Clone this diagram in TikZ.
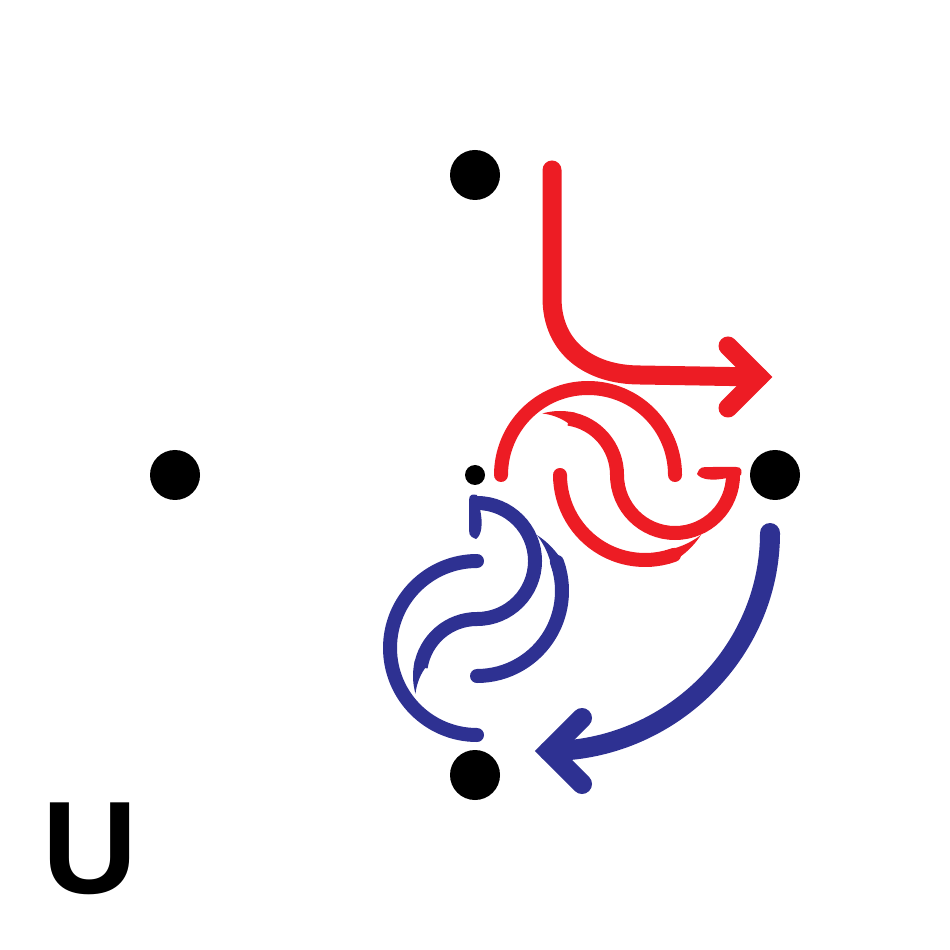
\documentclass[tikz,border=0pt]{standalone}
\usepackage{fontspec}
\usepackage{tikz}
\newfontfamily\capfont{Liberation Sans}
\definecolor{swred}{HTML}{ED1C24}
\definecolor{swblue}{HTML}{2E3192}
\newcommand{\taper}[6]{%
  \fill[shift={(#1,#2)}] plot[variable=\t,domain=0:1,samples=16] ({#4+(#5-#4)*\t}:{#3+7+(#6-#3-7)*\t})
    -- plot[variable=\t,domain=1:0,samples=16] ({#4+(#5-#4)*\t}:{#3-7+(#6-#3+7)*\t}) -- cycle;
}
\newcommand{\swirl}{%
  \draw[sline] (-87,0) arc[start angle=180,end angle=360,radius=87];
  \draw[sline,line cap=butt] ([shift={(-28,0)}]279:57) arc[start angle=279,end angle=360,radius=57]
    arc[start angle=180,end angle=0,radius=58];
  \draw[sline] (-28,0) arc[start angle=180,end angle=70,radius=85];
  \taper{-28}{0}{57}{284}{254}{64}
  \taper{57}{0}{85}{75}{47}{82}
  \fill (109,-1) .. controls (112,-8) .. (125,-8) -- (148,-8)
    .. controls (154,-8) and (154,-4) .. (153,0) -- (139,3)
    .. controls (125,6) and (113,5) .. cycle;
}
\usetikzlibrary{calc}

\begin{document}
\begin{tikzpicture}[x=0.1mm,y=-0.1mm,
    vdot/.style={circle,fill=black,inner sep=0pt,minimum size=5mm},
    sline/.style={line width=1.4mm,line cap=round},
    redline/.style={swred,line width=1.9mm,line cap=round},
    blueline/.style={swblue,line width=2mm,line cap=round},
    chevron/.style={line join=miter}]
    \useasboundingbox (0,0) rectangle (950,950);
    \node[vdot] (vtop) at (475,175) {};
    \node[vdot] (vleft) at (175,475) {};
    \node[vdot,minimum size=2mm] (vmid) at (475,475) {};
    \node[vdot] (vright) at (775,475) {};
    \node[vdot] (vbot) at (475,775) {};
    \node[inner sep=0pt,font=\capfont\bfseries\fontsize{37.5}{40}\selectfont] (ulabel) at (90,849) {U};
    % swirls
    \begin{scope}[shift={(588,475)},swred]
      \swirl
    \end{scope}
    \begin{scope}[shift={(477,648)},rotate=90,swblue]
      \swirl
    \end{scope}
    % arrows
    \coordinate (rs) at ($(vtop)+(77,-5)$);
    \coordinate (rt) at ($(vright)+(-16,-98)$);
    \coordinate (bs) at ($(vright)+(-5,58)$);
    \coordinate (bt) at ($(vbot)+(74,-24)$);
    \draw[redline] (rs) -- ++(0,128) .. controls +(0,50) and +(-50,0) .. ++(88,77) -- (rt);
    \draw[redline,chevron] ($(rt)+(-31,-31)$) -- (rt) -- ($(rt)+(-31,31)$);
    \draw[blueline] (bs) .. controls +(0,120) and +(120,0) .. (bt);
    \draw[blueline,chevron] ($(bt)+(33,-33)$) -- (bt) -- ($(bt)+(33,33)$);
\end{tikzpicture}
\end{document}
